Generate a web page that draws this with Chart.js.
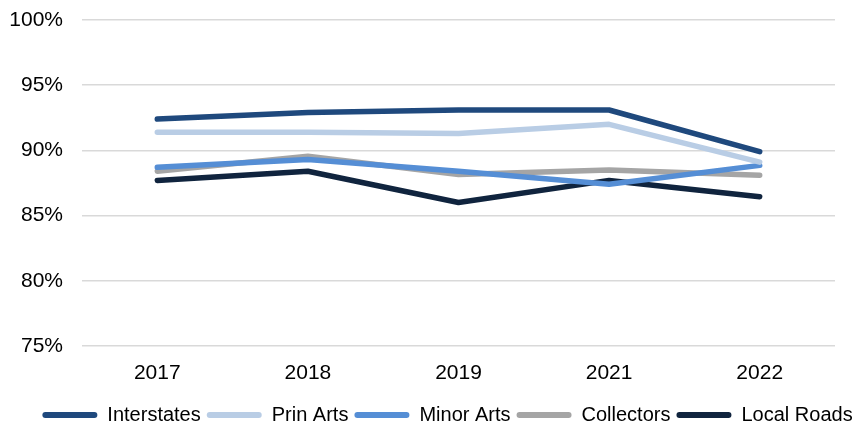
<!DOCTYPE html>
<html>
<head>
<meta charset="utf-8">
<script src="https://cdn.jsdelivr.net/npm/chart.js@4"></script>
<style>
html,body{margin:0;padding:0;background:#fff;}
#wrap{width:865px;height:426px;position:relative;}
</style>
</head>
<body>
<div id="wrap"><canvas id="c" width="865" height="426"></canvas></div>
<script>
const years = ["2017", "2018", "2019", "2021", "2022"];
const interstates = [92.4, 92.9, 93.1, 93.1, 89.9];
const prinArts = [91.4, 91.4, 91.3, 92.0, 89.1];
const minorArts = [88.7, 89.3, 88.4, 87.4, 88.85];
const collectors = [88.4, 89.55, 88.15, 88.5, 88.1];
const localRoads = [87.7, 88.4, 86.0, 87.7, 86.45];
const seriesNames = ["Interstates", "Prin Arts", "Minor Arts", "Collectors", "Local Roads"];
const seriesColors = ["#1F497D", "#B9CDE5", "#558ED5", "#A5A5A5", "#10243E"];
const seriesData = [interstates, prinArts, minorArts, collectors, localRoads];

const FONT = "'Liberation Sans', Arial, sans-serif";

const datasets = seriesData.map((d, i) => ({
  label: seriesNames[i],
  data: d,
  borderColor: seriesColors[i],
  backgroundColor: seriesColors[i],
  borderWidth: 5.5,
  pointRadius: 0,
  pointHoverRadius: 0,
  tension: 0,
  borderCapStyle: 'round',
  borderJoinStyle: 'round'
}));

const legendShift = {
  id: 'legendShift',
  afterLayout(chart) {
    const lg = chart.legend;
    if (lg) { lg.left += 30; lg.right += 30; }
  }
};

new Chart(document.getElementById('c'), {
  type: 'line',
  data: { labels: years, datasets: datasets },
  plugins: [legendShift],
  options: {
    responsive: false,
    animation: false,
    devicePixelRatio: 1,
    layout: { padding: { top: 20, right: 30, left: 0, bottom: -9 } },
    plugins: {
      tooltip: { enabled: false },
      legend: {
        position: 'bottom',
        labels: {
          boxWidth: 55,
          boxHeight: 6,
          padding: 6,
          color: '#000',
          useBorderRadius: true,
          borderRadius: 3,
          font: { family: FONT, size: 20 },
          generateLabels: function(chart) {
            const items = Chart.defaults.plugins.legend.labels.generateLabels(chart);
            items.forEach((it, i) => {
              it.lineWidth = 0;
              it.fillStyle = seriesColors[i];
              it.strokeStyle = seriesColors[i];
              it.borderRadius = 3;
            });
            return items;
          }
        }
      }
    },
    scales: {
      x: {
        offset: true,
        grid: { display: false },
        border: { display: false },
        afterFit: s => { s.height = 53; },
        ticks: { color: '#000', padding: 7, font: { family: FONT, size: 21 } }
      },
      y: {
        min: 75,
        max: 100,
        border: { display: false },
        grid: { color: '#D9D9D9', lineWidth: 1.5, drawTicks: true, tickLength: 19, tickColor: 'rgba(0,0,0,0)' },
        afterFit: s => { s.width = 82; },
        ticks: {
          stepSize: 5,
          color: '#000',
          padding: 0,
          font: { family: FONT, size: 21 },
          callback: v => v + '%'
        }
      }
    }
  }
});
</script>
</body>
</html>
